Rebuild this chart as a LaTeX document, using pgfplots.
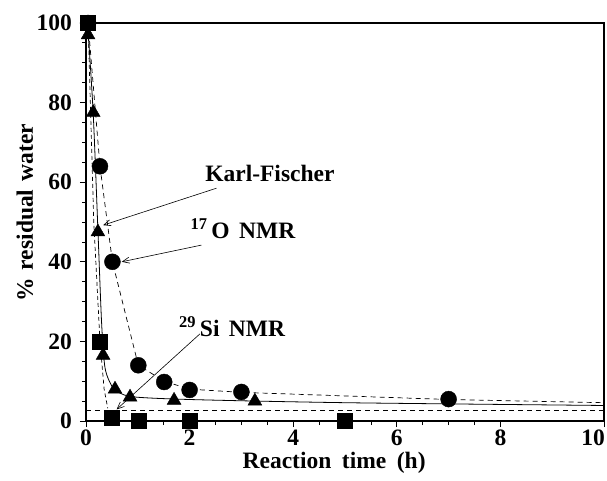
\documentclass[border=0pt]{standalone}
\usepackage{pgfplots}
\pgfplotsset{compat=1.18}
\usepackage{fontspec}
\setmainfont{Liberation Serif}
\usetikzlibrary{arrows.meta}
\newcommand{\bigf}{\fontsize{23.5}{28}\selectfont\bfseries}
\begin{document}
\bigf
\begin{tikzpicture}
\begin{axis}[
  width=518pt, height=398pt, scale only axis,
  xmin=0, xmax=10, ymin=0, ymax=100,
  clip=false,
  tick pos=left, tick align=outside,
  xtick={0,2,4,6,8}, ytick={0,20,40,60,80,100},
  extra x ticks={10},
  extra x tick style={xticklabel style={anchor=base east, xshift=1pt}},
  minor x tick num=3, minor y tick num=3,
  major tick length=6pt, minor tick length=4pt,
  every tick/.style={black, line width=0.8pt},
  axis line style={line width=1.2pt},
  /pgf/number format/assume math mode=true,
  ticklabel style={font=\bigf},
  yticklabel style={anchor=east, inner sep=0pt, xshift=-8pt},
  xticklabel style={anchor=base, inner sep=0pt, yshift=-18pt},
  xlabel={Reaction\hspace{0.45em}time\hspace{0.45em}(h)},
  ylabel={\%\hspace{0.35em}residual\hspace{0.35em}water},
  label style={font=\bigf},
  xlabel style={at={(axis description cs:0.479,0)}, anchor=base, yshift=-47pt},
  ylabel style={at={(axis description cs:-0.118,0.523)}, anchor=center},
]
% square fit (dashed)
\addplot[black, dash pattern=on 4pt off 3pt, line width=0.7pt] coordinates {(0.04,100) (0.15,50) (0.27,20) (0.35,8) (0.42,3.2)};
% horizontal dashed asymptote
\addplot[black, dash pattern=on 5pt off 4pt, line width=0.7pt] coordinates {(0,2.8) (10,2.8)};
% circle fit (dashed)
\addplot[black, dash pattern=on 5pt off 4pt, line width=0.7pt] coordinates {(0.04,100) (0.27,64) (0.51,40) (1.01,14) (1.51,10) (2.0,8) (3.0,7.2) (7.0,5.4) (10,4.6)};
% triangle fit (solid)
\addplot[black, line width=0.8pt, smooth] coordinates {(0.04,98) (0.14,77) (0.23,48) (0.3,25) (0.36,14) (0.45,10) (0.56,7.8) (0.8,6.3) (1.2,5.8) (2,5.4) (3.3,5.0) (5,4.6) (7,4.3) (10,3.9)};
% markers
\addplot[only marks, mark=*, mark size=8pt, black] coordinates {(0.04,100) (0.27,64) (0.51,40) (1.01,14) (1.51,9.8) (2.0,7.8) (3.0,7.3) (7.0,5.5)};
\addplot[only marks, mark=triangle*, mark size=8pt, black] coordinates {(0.04,97) (0.14,77.5) (0.23,47.5) (0.33,16.5) (0.56,8) (0.85,6) (1.7,5.2) (3.26,5)};
\addplot[only marks, mark=square*, mark size=7.5pt, black] coordinates {(0.04,100) (0.27,20) (0.5,0.8) (1.01,0) (2.0,0) (5.0,0)};
% annotations
\node at (axis cs:3.55,62.3) {Karl-Fischer};
\node at (axis cs:3.03,48.2) {\textsuperscript{17}\,O\hspace{0.4em}NMR};
\node at (axis cs:2.82,23.6) {\textsuperscript{29}\,Si\hspace{0.4em}NMR};
\draw[-{Straight Barb[length=7pt,width=6pt]}, line width=0.6pt] (axis cs:2.52,58.5) -- (axis cs:0.33,49.2);
\draw[-{Straight Barb[length=7pt,width=6pt]}, line width=0.6pt] (axis cs:2.23,44.2) -- (axis cs:0.69,40.0);
\draw[-{Straight Barb[length=7pt,width=6pt]}, line width=0.6pt] (axis cs:2.2,21.9) -- (axis cs:0.59,2.9);
\end{axis}
\path[use as bounding box] ([xshift=-86pt,yshift=-51pt]current axis.south west) rectangle ([xshift=3pt,yshift=23pt]current axis.north east);
\end{tikzpicture}
\end{document}
